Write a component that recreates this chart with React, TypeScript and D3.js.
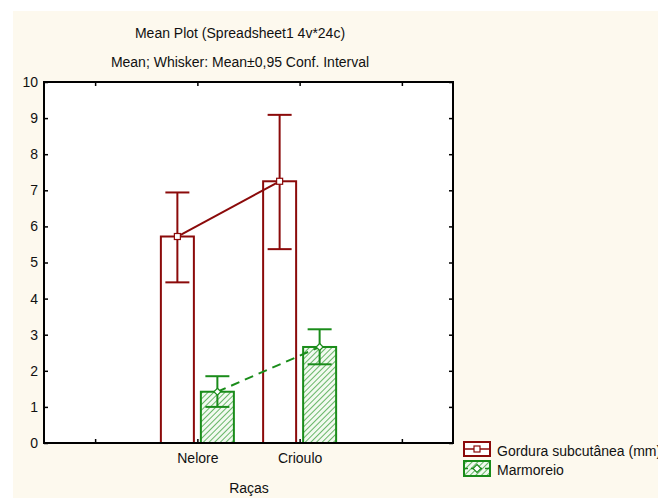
import React, { useEffect, useRef } from 'react';
import * as d3 from 'd3';

// categories and series
const categories = ['Nelore', 'Crioulo'];
const seriesNames = ['Gordura subcutânea (mm)', 'Marmoreio'];

// means and 95% CI bounds
const gorduraMean = [5.72, 7.25];
const gorduraLow = [4.45, 5.37];
const gorduraHigh = [6.94, 9.09];
const marmoreioMean = [1.42, 2.66];
const marmoreioLow = [1.0, 2.18];
const marmoreioHigh = [1.85, 3.15];

const yTicks = [0, 1, 2, 3, 4, 5, 6, 7, 8, 9, 10];
const xTicks = [-1, 0, 1, 2];

const RED = '#8b0a0a';
const GREEN = '#1a8c1a';
const FONT = '"Liberation Sans", Arial, sans-serif';

function initChart(node: SVGSVGElement) {
  const W = 658, H = 498;
  const margin = { top: 82, right: 205, bottom: 55, left: 44 };
  const x0 = margin.left, x1 = W - margin.right;
  const y0 = margin.top, y1 = H - margin.bottom;

  const svg = d3.select(node).attr('width', W).attr('height', H);
  svg.selectAll('*').remove();

  const defs = svg.append('defs');
  const pat = defs.append('pattern')
    .attr('id', 'hatch')
    .attr('patternUnits', 'userSpaceOnUse')
    .attr('width', 4).attr('height', 4)
    .attr('patternTransform', 'rotate(45)');
  pat.append('rect').attr('width', 4).attr('height', 4).attr('fill', '#f2faf0');
  pat.append('line').attr('x1', 0).attr('y1', 0).attr('x2', 0).attr('y2', 4)
    .attr('stroke', '#3a9f3a').attr('stroke-width', 1.5);

  // background
  svg.append('rect').attr('width', W).attr('height', H).attr('fill', '#fff');
  svg.append('rect').attr('x', 13).attr('y', 11).attr('width', W - 13).attr('height', H - 11)
    .attr('fill', '#fdf9ee');
  svg.append('rect').attr('x', x0).attr('y', y0).attr('width', x1 - x0).attr('height', y1 - y0)
    .attr('fill', '#fff');

  const x = d3.scaleLinear().domain([-1.5, 2.5]).range([x0, x1]);
  const y = d3.scaleLinear().domain([0, 10]).range([y1, y0]);
  const inner = d3.scaleBand().domain(seriesNames).range([-36.5, 36.5]).paddingInner(0.175);

  const series = [
    { name: seriesNames[0], mean: gorduraMean, low: gorduraLow, high: gorduraHigh },
    { name: seriesNames[1], mean: marmoreioMean, low: marmoreioLow, high: marmoreioHigh },
  ];

  const cx = (i: number, s: string) => x(i) + (inner(s) as number) + inner.bandwidth() / 2;

  // bars
  series.forEach((s, si) => {
    svg.append('g').selectAll('rect')
      .data(s.mean)
      .enter().append('rect')
      .attr('x', (d, i) => x(i) + (inner(s.name) as number))
      .attr('y', d => y(d))
      .attr('width', inner.bandwidth())
      .attr('height', d => y(0) - y(d))
      .attr('fill', si === 0 ? '#fff' : 'url(#hatch)')
      .attr('stroke', si === 0 ? RED : GREEN)
      .attr('stroke-width', 2);
  });

  // lines through means
  series.forEach((s, si) => {
    const line = d3.line<number>().x((d, i) => cx(i, s.name)).y(d => y(d));
    svg.append('path')
      .attr('d', line(s.mean))
      .attr('fill', 'none')
      .attr('stroke', si === 0 ? RED : GREEN)
      .attr('stroke-width', 2)
      .attr('stroke-dasharray', si === 0 ? null : '9,6');
  });

  // whiskers
  series.forEach((s, si) => {
    const col = si === 0 ? RED : GREEN;
    const g = svg.append('g').attr('stroke', col).attr('stroke-width', 2);
    s.mean.forEach((m, i) => {
      const c = cx(i, s.name);
      g.append('line').attr('x1', c).attr('x2', c).attr('y1', y(s.low[i])).attr('y2', y(s.high[i]));
      g.append('line').attr('x1', c - 12).attr('x2', c + 12).attr('y1', y(s.low[i])).attr('y2', y(s.low[i]));
      g.append('line').attr('x1', c - 12).attr('x2', c + 12).attr('y1', y(s.high[i])).attr('y2', y(s.high[i]));
    });
  });

  // markers
  series.forEach((s, si) => {
    s.mean.forEach((m, i) => {
      const c = cx(i, s.name);
      if (si === 0) {
        svg.append('rect').attr('x', c - 3).attr('y', y(m) - 3).attr('width', 6).attr('height', 6)
          .attr('fill', '#fff').attr('stroke', RED).attr('stroke-width', 1.2);
      } else {
        svg.append('path').attr('d', `M${c},${y(m) - 3.5}L${c + 3.5},${y(m)}L${c},${y(m) + 3.5}L${c - 3.5},${y(m)}Z`)
          .attr('fill', '#fff').attr('stroke', GREEN).attr('stroke-width', 1.2);
      }
    });
  });

  // frame
  svg.append('rect').attr('x', x0).attr('y', y0).attr('width', x1 - x0).attr('height', y1 - y0)
    .attr('fill', 'none').attr('stroke', '#000').attr('stroke-width', 2);

  // axes
  const axisStyle = (g: d3.Selection<SVGGElement, unknown, null, undefined>) => {
    g.select('.domain').remove();
    g.selectAll('.tick line').attr('stroke', '#000').attr('stroke-width', 1.5);
    g.selectAll('.tick text').attr('font-family', FONT).attr('font-size', 14).attr('fill', '#111');
  };

  svg.append('g').attr('transform', `translate(${x0},0)`)
    .call(d3.axisRight(y).tickValues(yTicks).tickSize(4).tickFormat(() => ''))
    .call(axisStyle);
  svg.append('g').attr('transform', `translate(${x0},0)`)
    .call(d3.axisLeft(y).tickValues(yTicks).tickSize(0).tickPadding(6).tickFormat(d3.format('d')))
    .call(axisStyle);
  svg.append('g').attr('transform', `translate(${x1},0)`)
    .call(d3.axisLeft(y).tickValues(yTicks).tickSize(4).tickFormat(() => ''))
    .call(axisStyle);
  svg.append('g').attr('transform', `translate(0,${y0})`)
    .call(d3.axisBottom(x).tickValues(xTicks).tickSize(4).tickFormat(() => ''))
    .call(axisStyle);
  svg.append('g').attr('transform', `translate(0,${y1})`)
    .call(d3.axisTop(x).tickValues(xTicks).tickSize(4).tickFormat(() => ''))
    .call(axisStyle);
  svg.append('g').attr('transform', `translate(0,${y1})`)
    .call(d3.axisBottom(x).tickValues([0, 1]).tickSize(0).tickPadding(10)
      .tickFormat((d) => categories[d as number]))
    .call(axisStyle);

  // titles
  const txt = (t: string, tx: number, ty: number, anchor = 'middle') =>
    svg.append('text').attr('x', tx).attr('y', ty).attr('text-anchor', anchor)
      .attr('font-family', FONT).attr('font-size', 14).attr('fill', '#111').text(t);
  txt('Mean Plot (Spreadsheet1 4v*24c)', 240, 38);
  txt('Mean; Whisker: Mean±0,95 Conf. Interval', 240, 67);
  txt('Raças', 249, 493);

  // legend
  const lx = 464, lw = 26;
  const leg = svg.append('g');
  // red
  leg.append('rect').attr('x', lx).attr('y', 442).attr('width', lw).attr('height', 14)
    .attr('fill', '#fff').attr('stroke', RED).attr('stroke-width', 2);
  leg.append('line').attr('x1', lx).attr('x2', lx + lw).attr('y1', 449).attr('y2', 449)
    .attr('stroke', RED).attr('stroke-width', 1.5);
  leg.append('rect').attr('x', lx + lw / 2 - 3).attr('y', 446).attr('width', 6).attr('height', 6)
    .attr('fill', '#fff').attr('stroke', RED).attr('stroke-width', 1.2);
  txt(seriesNames[0], 497, 456, 'start');
  // green
  leg.append('rect').attr('x', lx).attr('y', 461).attr('width', lw).attr('height', 15)
    .attr('fill', 'url(#hatch)').attr('stroke', GREEN).attr('stroke-width', 2);
  leg.append('line').attr('x1', lx).attr('x2', lx + lw).attr('y1', 468.5).attr('y2', 468.5)
    .attr('stroke', GREEN).attr('stroke-width', 1.5).attr('stroke-dasharray', '4,3');
  leg.append('path').attr('d', `M${lx + lw / 2},464.5L${lx + lw / 2 + 4},468.5L${lx + lw / 2},472.5L${lx + lw / 2 - 4},468.5Z`)
    .attr('fill', '#fff').attr('stroke', GREEN).attr('stroke-width', 1.2);
  txt(seriesNames[1], 497, 475, 'start');

  return svg.node();
}

const App = () => {
  const ref = useRef<SVGSVGElement>(null);
  useEffect(() => {
    if (ref.current) initChart(ref.current);
  }, []);
  return (
    <div style={{ position: 'absolute', left: 0, top: 0 }}>
      <svg ref={ref} style={{ display: 'block' }}></svg>
    </div>
  );
};

export default App;
